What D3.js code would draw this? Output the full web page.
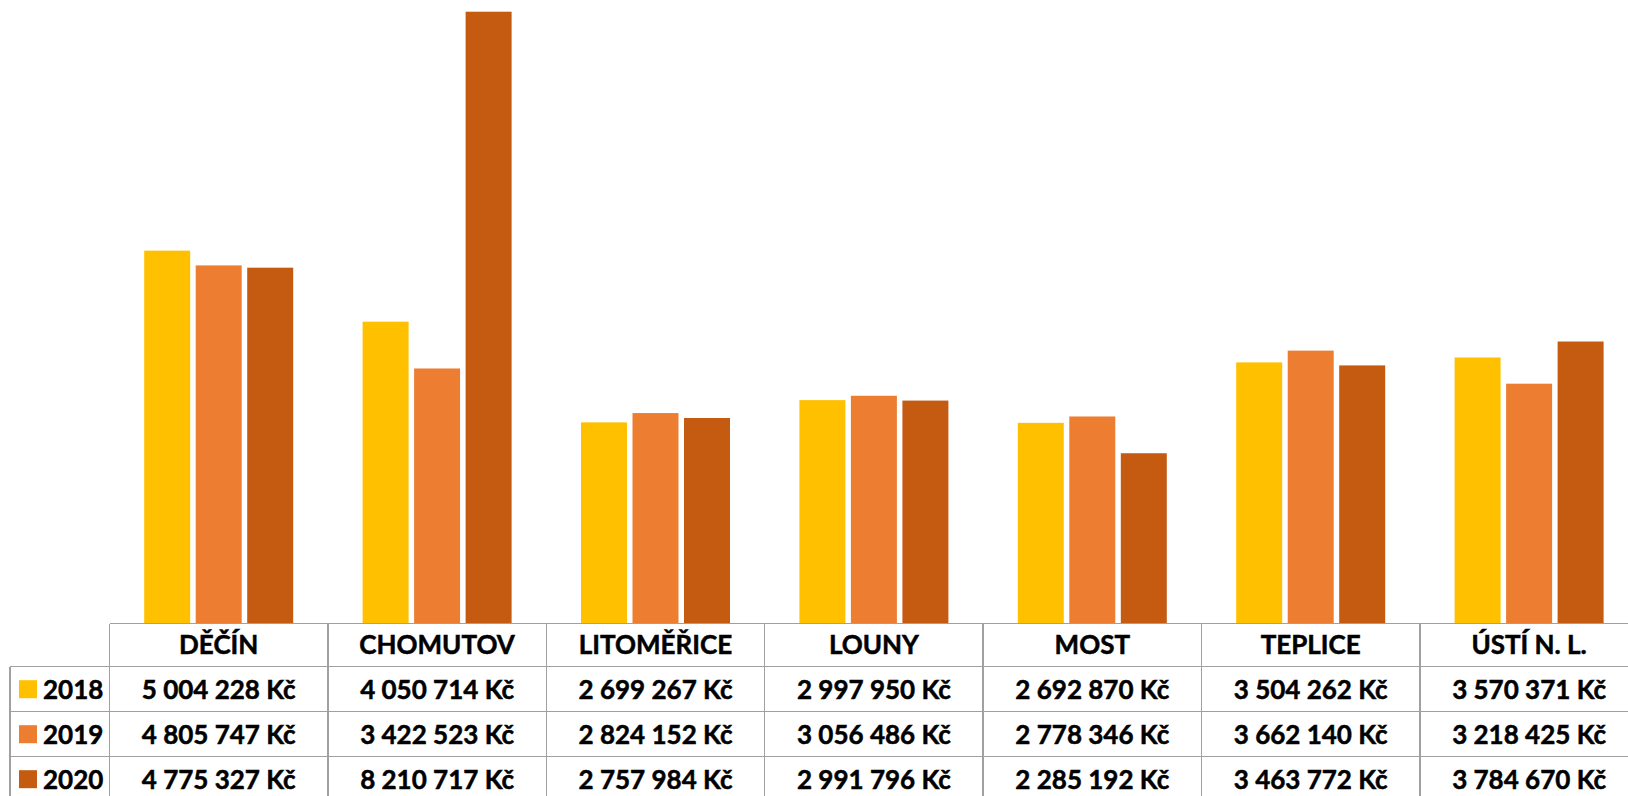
<!DOCTYPE html>
<html>
<head>
<meta charset="utf-8">
<script src="https://cdn.jsdelivr.net/npm/d3@7"></script>
<style>
  body { margin: 0; background: #fff; }
  svg { display: block; }
  .grid { stroke: #a0a0a0; stroke-width: 1.5; shape-rendering: crispEdges; }
  text { font-family: Lato, "Open Sans", sans-serif; font-weight: 700; fill: #000; stroke: #000; stroke-width: 0.5; }
</style>
</head>
<body>
<svg width="1628" height="796"></svg>
<script>
// data
const cities = ["DĚČÍN", "CHOMUTOV", "LITOMĚŘICE", "LOUNY", "MOST", "TEPLICE", "ÚSTÍ N. L."];
const years = ["2018", "2019", "2020"];
const values2018 = [5004228, 4050714, 2699267, 2997950, 2692870, 3504262, 3570371];
const values2019 = [4805747, 3422523, 2824152, 3056486, 2778346, 3662140, 3218425];
const values2020 = [4775327, 8210717, 2757984, 2991796, 2285192, 3463772, 3784670];
const yearColors = ["#FFC000", "#ED7D31", "#C55A11"];

const series = [values2018, values2019, values2020];

const svg = d3.select("svg");

// layout
const baseY = 623.5;      // bottom of the bars / top of the table
const tableLeft = 10;
const colLeft = 109.5;
const colWidth = 218.4;
const headH = 43.2;
const rowH = 45;
const groupW = 149;

const x = d3.scaleBand().domain(cities).range([colLeft, colLeft + colWidth * cities.length]);
const xYear = d3.scaleBand().domain(years).range([0, groupW]).paddingInner(0.107);
const y = d3.scaleLinear().domain([0, 9000000]).range([baseY, baseY - 670.6]);
const color = d3.scaleOrdinal().domain(years).range(yearColors);

const fmt = v => d3.format(",")(v).replace(/,/g, " ") + " Kč";

// bars
const g = svg.append("g");
years.forEach(function(yr, k) {
  g.selectAll("rect.y" + yr)
    .data(cities.map((c, i) => ({city: c, value: series[k][i]})))
    .enter()
    .append("rect")
    .attr("x", d => x(d.city) + (colWidth - groupW) / 2 + xYear(yr))
    .attr("y", d => y(d.value))
    .attr("width", xYear.bandwidth())
    .attr("height", d => baseY - y(d.value))
    .attr("fill", color(yr));
});

// data table
const t = svg.append("g");
const right = 1700;
const rowTop = i => baseY + headH + i * rowH;

// horizontal lines
t.append("line").attr("class", "grid")
  .attr("x1", colLeft).attr("x2", right).attr("y1", baseY).attr("y2", baseY);
for (let i = 0; i <= years.length; i++) {
  t.append("line").attr("class", "grid")
    .attr("x1", tableLeft).attr("x2", right).attr("y1", rowTop(i)).attr("y2", rowTop(i));
}
// vertical lines
t.append("line").attr("class", "grid")
  .attr("x1", tableLeft).attr("x2", tableLeft).attr("y1", rowTop(0)).attr("y2", 820);
cities.forEach(function(c) {
  t.append("line").attr("class", "grid")
    .attr("x1", x(c)).attr("x2", x(c)).attr("y1", baseY).attr("y2", 820);
});

// header
t.selectAll("text.head")
  .data(cities)
  .enter()
  .append("text")
  .attr("class", "head")
  .attr("x", d => x(d) + colWidth / 2)
  .attr("y", baseY + headH / 2)
  .attr("dy", "0.36em")
  .attr("text-anchor", "middle")
  .attr("font-size", 26)
  .text(d => d);

// rows
years.forEach(function(yr, k) {
  const cy = rowTop(k) + rowH / 2;
  t.append("rect")
    .attr("x", 19).attr("y", cy - 9)
    .attr("width", 18).attr("height", 18)
    .attr("fill", color(yr));
  t.append("text")
    .attr("x", 43).attr("y", cy)
    .attr("dy", "0.36em")
    .attr("font-size", 26)
    .text(yr);
  t.selectAll("text.v" + yr)
    .data(series[k])
    .enter()
    .append("text")
    .attr("x", (d, i) => x(cities[i]) + colWidth / 2)
    .attr("y", cy)
    .attr("dy", "0.36em")
    .attr("text-anchor", "middle")
    .attr("font-size", 26)
    .text(d => fmt(d));
});
</script>
</body>
</html>
